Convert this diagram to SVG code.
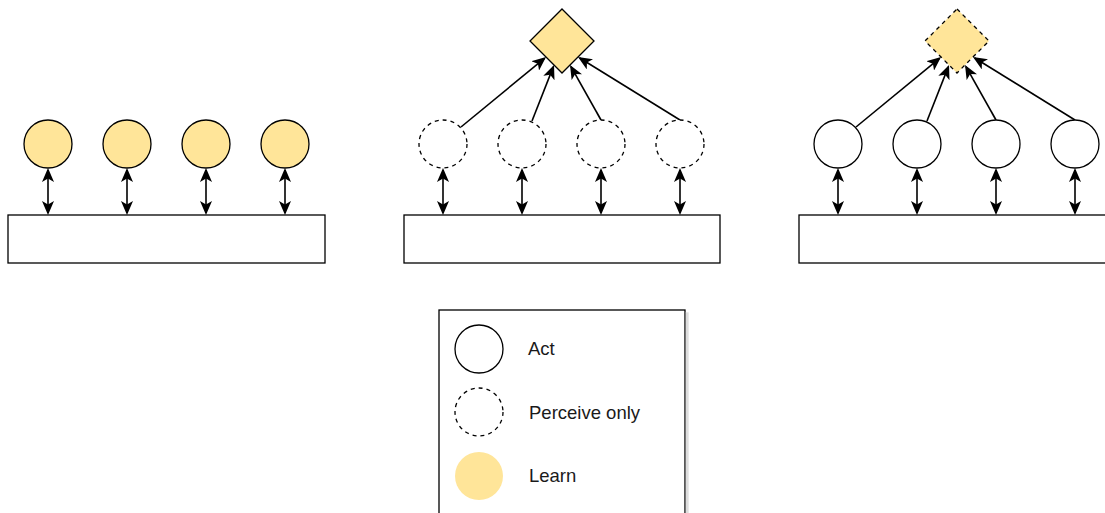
<svg xmlns="http://www.w3.org/2000/svg" width="1105" height="513" viewBox="0 0 1105 513">
  <style>
    .learn { fill: #FFE599; stroke: #000; stroke-width: 1.3; }
    .act { fill: #fff; stroke: #000; stroke-width: 1.3; }
    .perceive { fill: #fff; stroke: #000; stroke-width: 1.3; stroke-dasharray: 4 4; }
    .env { fill: #fff; stroke: #000; stroke-width: 1.3; }
    .agg { fill: #FFE599; stroke: #000; stroke-width: 1.3; }
    .agg-dash { fill: #FFE599; stroke: #000; stroke-width: 1.3; stroke-dasharray: 4 4; }
    .link { fill: none; stroke: #000; stroke-width: 1.6; }
    .both { marker-start: url(#head); marker-end: url(#head); }
    .one { marker-end: url(#head); }
    .label { font-family: "Liberation Sans", Arial, sans-serif; font-size: 18.5px; fill: #1a1a1a; }
  </style>
  <defs>
    <marker id="head" viewBox="0 0 14 12" refX="12" refY="6" markerWidth="14" markerHeight="12" markerUnits="userSpaceOnUse" orient="auto-start-reverse">
      <path d="M0,0 L14,6 L0,12 L3.5,6 Z" fill="#000"/>
    </marker>
    <filter id="shadow" x="-5%" y="-5%" width="115%" height="115%">
      <feOffset dx="3" dy="3" in="SourceAlpha" result="o"/>
      <feColorMatrix in="o" type="matrix" values="0 0 0 0 0.5  0 0 0 0 0.5  0 0 0 0 0.5  0 0 0 0.5 0" result="s"/>
      <feMerge><feMergeNode in="s"/><feMergeNode in="SourceGraphic"/></feMerge>
    </filter>
  </defs>

  <!-- connectors -->
  <g id="connectors">
    <!-- left panel: agent <-> environment -->
    <path class="link both" d="M48,170 V213"/>
    <path class="link both" d="M127,170 V213"/>
    <path class="link both" d="M206,170 V213"/>
    <path class="link both" d="M285,170 V213"/>
    <!-- middle panel -->
    <path class="link both" d="M443,170 V213"/>
    <path class="link both" d="M522,170 V213"/>
    <path class="link both" d="M601,170 V213"/>
    <path class="link both" d="M680,170 V213"/>
    <path class="link one" d="M461,127 L544.5,58.3"/>
    <path class="link one" d="M532,121 L553.3,66.9"/>
    <path class="link one" d="M601,120 L571,66.7"/>
    <path class="link one" d="M680,120 L579.7,58"/>
    <!-- right panel -->
    <path class="link both" d="M838,170 V213"/>
    <path class="link both" d="M917,170 V213"/>
    <path class="link both" d="M996,170 V213"/>
    <path class="link both" d="M1075,170 V213"/>
    <path class="link one" d="M856,127 L939.5,58.3"/>
    <path class="link one" d="M927,121 L948.3,66.9"/>
    <path class="link one" d="M996,120 L966,66.7"/>
    <path class="link one" d="M1075,120 L974.7,58"/>
  </g>

  <!-- left panel -->
  <g id="env-left"><rect class="env" x="8" y="215" width="317" height="48"/></g>
  <g id="agent-l1"><circle class="learn" cx="48" cy="144" r="24"/></g>
  <g id="agent-l2"><circle class="learn" cx="127" cy="144" r="24"/></g>
  <g id="agent-l3"><circle class="learn" cx="206" cy="144" r="24"/></g>
  <g id="agent-l4"><circle class="learn" cx="285" cy="144" r="24"/></g>

  <!-- middle panel -->
  <g id="env-mid"><rect class="env" x="404" y="215" width="316" height="48"/></g>
  <g id="agent-m1"><circle class="perceive" cx="443" cy="144" r="24"/></g>
  <g id="agent-m2"><circle class="perceive" cx="522" cy="144" r="24"/></g>
  <g id="agent-m3"><circle class="perceive" cx="601" cy="144" r="24"/></g>
  <g id="agent-m4"><circle class="perceive" cx="680" cy="144" r="24"/></g>
  <g id="central-mid"><path class="agg" d="M562,9 L594,41 L562,73 L530,41 Z"/></g>

  <!-- right panel -->
  <g id="env-right"><rect class="env" x="799" y="215" width="316" height="48"/></g>
  <g id="agent-r1"><circle class="act" cx="838" cy="144" r="24"/></g>
  <g id="agent-r2"><circle class="act" cx="917" cy="144" r="24"/></g>
  <g id="agent-r3"><circle class="act" cx="996" cy="144" r="24"/></g>
  <g id="agent-r4"><circle class="act" cx="1075" cy="144" r="24"/></g>
  <g id="central-right"><path class="agg-dash" d="M957,9 L989,41 L957,73 L925,41 Z"/></g>

  <!-- legend -->
  <g id="legend">
    <rect x="439" y="310" width="246" height="220" fill="#fff" stroke="#000" stroke-width="1.3" filter="url(#shadow)"/>
    <circle class="act" cx="479" cy="349" r="24"/>
    <text class="label" x="528" y="355">Act</text>
    <circle class="perceive" cx="479" cy="412" r="24"/>
    <text class="label" x="529" y="419">Perceive only</text>
    <circle cx="479" cy="476" r="24" fill="#FFE599"/>
    <text class="label" x="529" y="482">Learn</text>
  </g>
</svg>
